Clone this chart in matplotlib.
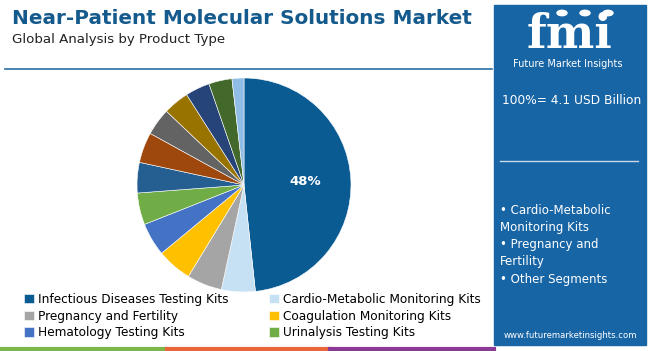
import matplotlib.pyplot as plt
from matplotlib.patches import Rectangle, Circle
from matplotlib.lines import Line2D

# 各區塊占比 (%)
segments = ["Infectious Diseases Testing Kits", "Cardio-Metabolic Monitoring Kits",
            "Pregnancy and Fertility", "Coagulation Monitoring Kits",
            "Hematology Testing Kits", "Urinalysis Testing Kits",
            "Other 1", "Other 2", "Other 3", "Other 4", "Other 5", "Other 6", "Other 7"]
shares = [48.3, 5.1, 5.3, 5.3, 5.0, 4.8, 4.6, 4.6, 4.1, 3.9, 3.7, 3.5, 1.8]
colors = ["#0b5b93", "#c6e1f4", "#a5a5a5", "#ffc000", "#4472c4", "#70ad47",
          "#255e91", "#9e480e", "#636363", "#997300", "#264478", "#43682b", "#8fbde6"]

bullets = ["• Cardio-Metabolic", "Monitoring Kits", "• Pregnancy and", "Fertility", "• Other Segments"]

W, H = 650, 351
fig = plt.figure(figsize=(W / 100, H / 100), dpi=100)
fig.patch.set_facecolor("white")


def fx(px):
    return px / W


def fy(py):
    return 1 - py / H


# 標題
fig.text(fx(12), fy(19), "Near-Patient Molecular Solutions Market", fontsize=14.4,
         fontweight="bold", color="#155a8c", va="center", ha="left")
fig.text(fx(12), fy(40), "Global Analysis by Product Type", fontsize=9.6,
         color="#222222", va="center", ha="left")
fig.add_artist(Line2D([fx(5), fx(492)], [fy(69), fy(69)], color="#2a6fa8", lw=1.2))

# 底部彩色線
for x0, x1, c in [(2, 167, "#7ab648"), (167, 330, "#e8663a"), (330, 494, "#8b3a96")]:
    fig.add_artist(Line2D([fx(x0), fx(x1)], [fy(349), fy(349)], color=c, lw=3))

# 右側面板
panel = "#1865a6"
fig.add_artist(Rectangle((fx(494), fy(345)), fx(646) - fx(494), 340 / H,
                         color=panel, transform=fig.transFigure))
fig.text(fx(570), fy(48), "fmi", fontsize=33, fontweight="bold", color="white",
         ha="center", va="baseline", family="DejaVu Serif")
for yy in range(21, 50, 4):
    fig.add_artist(Line2D([fx(515), fx(625)], [fy(yy), fy(yy)], color=panel, lw=0.9))
for cx in [562, 585, 608]:
    fig.add_artist(Circle((fx(cx), fy(13)), 5 / W, color="white", transform=fig.transFigure))
fig.text(fx(568), fy(64), "Future Market Insights", fontsize=7, color="white",
         ha="center", va="center")
fig.text(fx(572), fy(101), "100%= 4.1 USD Billion", fontsize=8.8, color="white",
         ha="center", va="center")
fig.add_artist(Line2D([fx(500), fx(638)], [fy(161), fy(161)], color="#c9d9ea", lw=1))
for i, b in enumerate(bullets):
    fig.text(fx(500), fy(210 + i * 17.3), b, fontsize=8.5, color="white",
             ha="left", va="center")
fig.text(fx(570), fy(335), "www.futuremarketinsights.com", fontsize=6.1, color="white",
         ha="center", va="center")

# 圓餅圖
cx, cy, r = 244, 185, 107
ax = fig.add_axes([fx(cx - r), fy(cy + r), 2 * r / W, 2 * r / H])
wedges, _, autotexts = ax.pie(shares, colors=colors, startangle=90, counterclock=False,
                              autopct=lambda p: f"{p:.0f}%" if p > 40 else "",
                              pctdistance=0.57,
                              wedgeprops=dict(linewidth=0.4, edgecolor="white"),
                              textprops=dict(color="white", fontsize=9.5, fontweight="bold"))
ax.set_xlim(-1, 1)
ax.set_ylim(-1, 1)
ax.set_aspect("equal")
ax.axis("off")

order = [0, 2, 4, 1, 3, 5]
fig.legend([wedges[i] for i in order], [segments[i] for i in order], ncol=2,
           loc="upper left", bbox_to_anchor=(fx(24), fy(293)), frameon=False,
           fontsize=8.7, handlelength=0.8, handleheight=0.8, handletextpad=0.4,
           columnspacing=3.3, labelspacing=0.3, borderaxespad=0, borderpad=0)

fig.savefig("out.png", dpi=100)
